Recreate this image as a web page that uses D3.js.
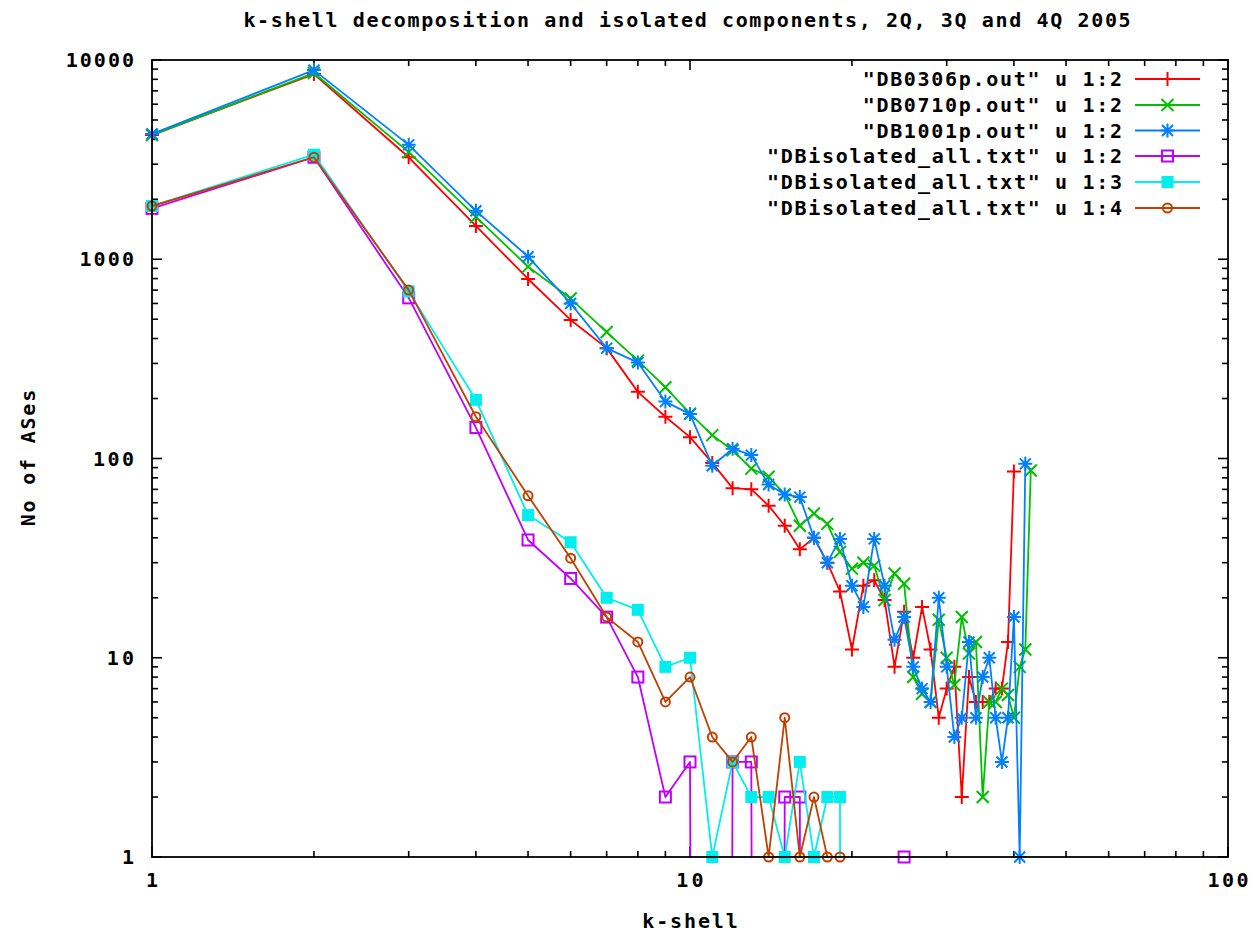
<!DOCTYPE html>
<html>
<head>
<meta charset="utf-8">
<title>k-shell decomposition</title>
<script src="https://cdn.jsdelivr.net/npm/d3@7"></script>
<style>
  html, body { margin: 0; padding: 0; background: #ffffff; }
  svg text { font-family: "DejaVu Sans Mono", "Liberation Mono", monospace; font-weight: bold; fill: #000; }
</style>
</head>
<body>
<svg id="chart" width="1256" height="934"></svg>
<script>
// k-shell index shared by every series
const kShells = [1, 2, 3, 4, 5, 6, 7, 8, 9, 10, 11, 12, 13, 14, 15, 16, 17, 18, 19, 20,
  21, 22, 23, 24, 25, 26, 27, 28, 29, 30, 31, 32, 33, 34, 35, 36, 37, 38, 39, 40, 41, 42, 43];

// Number of ASes per k-shell (column 2 of each snapshot)
const db0306 = [4200, 8500, 3250, 1470, 796, 496, 358, 216, 162, 128, 95, 71, 70, 58, 46, 35, 40, 30, 21.5, 11,
  23, 24.5, 19.5, 9, 17, 10, 18, 11, 5, 7, 9, 2, 8, 6, 6, 6, 7, 7, 12, 86];
const db0710 = [4200, 8600, 3450, 1630, 918, 635, 431, 310, 228, 168, 131, 110, 89, 81, 66, 46, 53, 47, 34, 28,
  30, 29, 19.5, 26.5, 23.5, 8, 6.6, 6, 15.5, 10, 7.3, 16, 10.5, 12, 2, 6, 6, 7, 6.5, 5, 9, 11, 87];
const db1001 = [4250, 8900, 3750, 1750, 1030, 600, 358, 303, 193, 167, 92, 112, 104, 74, 66, 64, 40, 30, 39.5, 23,
  18, 39.5, 23, 12.3, 16, 9, 7, 6, 20, 9, 4, 5, 12, 5, 8, 10, 5, 3, 5, 16, 1, 94];

// Isolated components, columns 2, 3 and 4 (0 = no AS in that shell)
const isolatedCol2 = [1800, 3250, 640, 143, 39, 25, 16, 8, 2, 3, 0, 3, 3, 0, 2, 2, 0, 0, 0, 0, 0, 0, 0, 0, 1];
const isolatedCol3 = [1850, 3350, 690, 197, 52, 38, 20, 17.4, 9, 10, 1, 3, 2, 2, 1, 3, 1, 2, 2, 0];
const isolatedCol4 = [1850, 3250, 700, 162, 65, 31.6, 16, 12, 6, 8, 4, 3, 4, 1, 5, 1, 2, 1, 1];

const seriesLabels = [
  '"DB0306p.out" u 1:2',
  '"DB0710p.out" u 1:2',
  '"DB1001p.out" u 1:2',
  '"DBisolated_all.txt" u 1:2',
  '"DBisolated_all.txt" u 1:3',
  '"DBisolated_all.txt" u 1:4'
];
const seriesColors = ["#ff0000", "#00c000", "#0080ff", "#c000ff", "#00eeee", "#c04000"];
const seriesSymbols = ["plus", "cross", "star", "square", "squareFilled", "circle"];

const xTickValues = [1, 10, 100];
const yTickValues = [1, 10, 100, 1000, 10000];
const chartTitle = "k-shell decomposition and isolated components, 2Q, 3Q and 4Q 2005";
const xTitle = "k-shell";
const yTitle = "No of ASes";

// ---- layout ----
const W = 1256, H = 934;
const plot = { left: 152, right: 1228, top: 60, bottom: 857 };
const CHAR_W = 13.65;          // advance of the wide terminal font
const FONT_SIZE = 20;

const svg = d3.select("#chart");

const x = d3.scaleLog().domain([1, 100]).range([plot.left, plot.right]);
const y = d3.scaleLog().domain([1, 10000]).range([plot.bottom, plot.top]);

// Zero counts have no place on a log axis: push them far below so the line
// plunges straight through the bottom border and is clipped there.
const ZERO_FLOOR = 1e-30;
const yv = v => y(v > 0 ? v : ZERO_FLOOR);

function label(sel, str) {
  return sel.text(str)
    .attr("font-size", FONT_SIZE)
    .attr("textLength", str.length * CHAR_W)
    .attr("lengthAdjust", "spacing");
}

svg.append("rect").attr("width", W).attr("height", H).attr("fill", "#fff");

svg.append("clipPath").attr("id", "plot-clip")
  .append("rect")
  .attr("x", plot.left).attr("y", plot.top)
  .attr("width", plot.right - plot.left).attr("height", plot.bottom - plot.top);

// ---- ticks (gnuplot style: inward, mirrored on all four sides) ----
const ticks = svg.append("g").attr("stroke", "#000").attr("stroke-width", 1.6);
const MAJOR = 10, MINOR = 6;

function logTicks(lo, hi) {
  const out = [];
  for (let d = lo; d < hi; d *= 10) {
    for (let m = 1; m < 10; m++) out.push({ v: d * m, major: m === 1 });
  }
  out.push({ v: hi, major: true });
  return out;
}

logTicks(1, 100).forEach(t => {
  const px = x(t.v), len = t.major ? MAJOR : MINOR;
  ticks.append("line").attr("x1", px).attr("x2", px).attr("y1", plot.bottom).attr("y2", plot.bottom - len);
  ticks.append("line").attr("x1", px).attr("x2", px).attr("y1", plot.top).attr("y2", plot.top + len);
});
logTicks(1, 10000).forEach(t => {
  const py = y(t.v), len = t.major ? MAJOR : MINOR;
  ticks.append("line").attr("x1", plot.left).attr("x2", plot.left + len).attr("y1", py).attr("y2", py);
  ticks.append("line").attr("x1", plot.right).attr("x2", plot.right - len).attr("y1", py).attr("y2", py);
});

// ---- tick labels ----
xTickValues.forEach(v => {
  label(svg.append("text"), String(v))
    .attr("x", x(v)).attr("y", 887)
    .attr("text-anchor", "middle");
});
yTickValues.forEach(v => {
  label(svg.append("text"), String(v))
    .attr("x", 134).attr("y", y(v) + 7)
    .attr("text-anchor", "end");
});

// ---- titles ----
label(svg.append("text"), chartTitle)
  .attr("x", 687).attr("y", 27).attr("text-anchor", "middle");
label(svg.append("text"), xTitle)
  .attr("x", 690).attr("y", 928).attr("text-anchor", "middle");
label(svg.append("text"), yTitle)
  .attr("transform", "translate(35,458) rotate(-90)")
  .attr("text-anchor", "middle");

// ---- symbols ----
function drawSymbol(g, type, cx, cy, color) {
  const sw = 2;
  if (type === "plus") {
    g.append("path").attr("d", `M${cx - 7},${cy}H${cx + 7}M${cx},${cy - 7}V${cy + 7}`)
      .attr("stroke", color).attr("stroke-width", sw).attr("fill", "none");
  } else if (type === "cross") {
    g.append("path").attr("d", `M${cx - 6},${cy - 6}L${cx + 6},${cy + 6}M${cx - 6},${cy + 6}L${cx + 6},${cy - 6}`)
      .attr("stroke", color).attr("stroke-width", sw).attr("fill", "none");
  } else if (type === "star") {
    g.append("path").attr("d",
      `M${cx - 7},${cy}H${cx + 7}M${cx},${cy - 7}V${cy + 7}` +
      `M${cx - 5.5},${cy - 5.5}L${cx + 5.5},${cy + 5.5}M${cx - 5.5},${cy + 5.5}L${cx + 5.5},${cy - 5.5}`)
      .attr("stroke", color).attr("stroke-width", sw).attr("fill", "none");
  } else if (type === "square") {
    g.append("rect").attr("x", cx - 5.5).attr("y", cy - 5.5).attr("width", 11).attr("height", 11)
      .attr("stroke", color).attr("stroke-width", sw).attr("fill", "none");
  } else if (type === "squareFilled") {
    g.append("rect").attr("x", cx - 6).attr("y", cy - 6).attr("width", 12).attr("height", 12)
      .attr("fill", color);
  } else if (type === "circle") {
    g.append("circle").attr("cx", cx).attr("cy", cy).attr("r", 4.5)
      .attr("stroke", color).attr("stroke-width", sw).attr("fill", "none");
  }
}

// ---- series ----
const seriesValues = [db0306, db0710, db1001, isolatedCol2, isolatedCol3, isolatedCol4];
const series = seriesValues.map((vals, i) => ({
  label: seriesLabels[i],
  color: seriesColors[i],
  symbol: seriesSymbols[i],
  points: vals.map((v, j) => ({ k: kShells[j], v }))
}));

const line = d3.line().x(d => x(d.k)).y(d => yv(d.v));

series.forEach(s => {
  const g = svg.append("g");
  g.append("path")
    .attr("d", line(s.points))
    .attr("clip-path", "url(#plot-clip)")
    .attr("fill", "none")
    .attr("stroke", s.color)
    .attr("stroke-width", 1.8)
    .attr("stroke-linejoin", "round");
  s.points.filter(p => p.v > 0).forEach(p => drawSymbol(g, s.symbol, x(p.k), y(p.v), s.color));
});

// ---- border ----
svg.append("rect")
  .attr("x", plot.left).attr("y", plot.top)
  .attr("width", plot.right - plot.left).attr("height", plot.bottom - plot.top)
  .attr("fill", "none").attr("stroke", "#000").attr("stroke-width", 1.8);

// ---- key ----
const keyRows = [79, 105, 130.5, 156, 182, 208];
const keyTextRight = 1122, keyLineX1 = 1135, keyLineX2 = 1200;
series.forEach((s, i) => {
  const ry = keyRows[i];
  label(svg.append("text"), s.label)
    .attr("x", keyTextRight).attr("y", ry + 7).attr("text-anchor", "end");
  const g = svg.append("g");
  g.append("line").attr("x1", keyLineX1).attr("x2", keyLineX2).attr("y1", ry).attr("y2", ry)
    .attr("stroke", s.color).attr("stroke-width", 1.8);
  drawSymbol(g, s.symbol, (keyLineX1 + keyLineX2) / 2, ry, s.color);
});
</script>
</body>
</html>
